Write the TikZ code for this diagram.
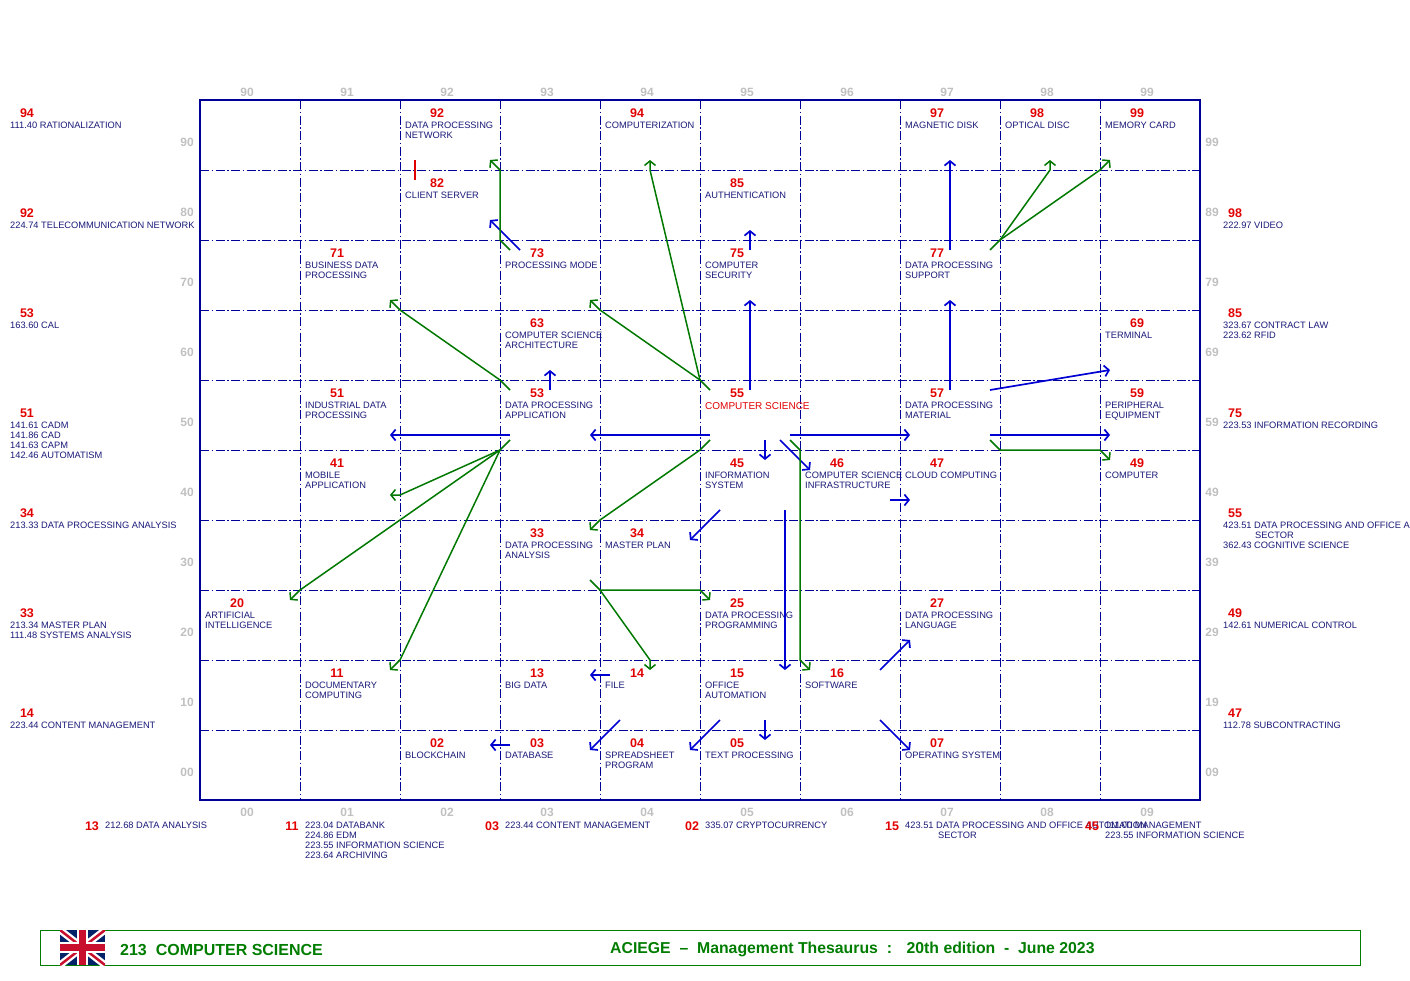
\documentclass[tikz,border=0pt]{standalone}
\usepackage{fontspec}
\setmainfont{Liberation Sans}
\usetikzlibrary{arrows.meta}
\usetikzlibrary{calc}

\definecolor{gridblue}{RGB}{0,0,150}
\definecolor{arrblue}{RGB}{0,0,210}
\definecolor{arrgreen}{RGB}{0,120,0}
\definecolor{numred}{RGB}{225,0,0}
\definecolor{termblue}{RGB}{25,25,120}
\definecolor{axgray}{RGB}{192,192,192}
\definecolor{footgreen}{RGB}{0,125,0}
\definecolor{flagblue}{RGB}{1,33,105}
\definecolor{flagred}{RGB}{200,16,46}

\newcommand{\termfont}{\fontsize{9.3}{10}\selectfont}
\newcommand{\numfont}{\fontsize{12.5}{13}\selectfont\bfseries}
\newcommand{\axfont}{\fontsize{12}{13}\selectfont\bfseries}
\newcommand{\footfont}{\fontsize{16}{18}\selectfont\bfseries}

\tikzset{
  num/.style={inner sep=0pt, text=numred, font=\numfont},
  term/.style={anchor=north west, inner sep=0pt, align=left, text=termblue, font=\termfont},
  axlabel/.style={inner sep=0pt, text=axgray, font=\axfont},
  gridline/.style={draw=gridblue, line width=0.9pt, dash pattern=on 9pt off 2.5pt on 1.5pt off 2.5pt},
  barrow/.style={draw=arrblue, line width=1.7pt, -{Straight Barb[length=4.5pt,width=11pt]}},
  garrow/.style={draw=arrgreen, line width=1.5pt, line join=round, -{Straight Barb[length=4.5pt,width=11pt]}},
}

\begin{document}
\begin{tikzpicture}[x=1pt,y=-1pt]
    \useasboundingbox (0,0) rectangle (1410,980);

    % grid corners
    \foreach \i in {0,...,10}
        \foreach \j in {0,...,10}
            \coordinate (k\i-\j) at ({200+100*\i},{100+70*\j});

    \foreach \i in {1,...,9} {
        \draw[gridline] (k\i-0) -- (k\i-10);
        \draw[gridline] (k0-\i) -- (k10-\i);
    }
    \draw[gridblue, line width=1.2pt] (k0-0) rectangle (k10-10);

    % axis numbers
    \foreach \i in {0,...,9} {
        \node[axlabel] (top\i) at ($(k\i-0)+(47,-8)$) {9\i};
        \node[axlabel] (bot\i) at ($(k\i-10)+(47,12)$) {0\i};
        \node[axlabel] (lft\i) at ($(k0-\i)+(-13,42)$) {\the\numexpr9-\i\relax0};
        \node[axlabel] (rgt\i) at ($(k10-\i)+(12,42)$) {\the\numexpr9-\i\relax9};
    }

    % cells
    \foreach \c/\r/\n/\t in {2/0/92/{DATA PROCESSING\\NETWORK}, 4/0/94/{COMPUTERIZATION},
        7/0/97/{MAGNETIC DISK}, 8/0/98/{OPTICAL DISC}, 9/0/99/{MEMORY CARD},
        2/1/82/{CLIENT SERVER}, 5/1/85/{AUTHENTICATION},
        1/2/71/{BUSINESS DATA\\PROCESSING}, 3/2/73/{PROCESSING MODE},
        5/2/75/{COMPUTER\\SECURITY}, 7/2/77/{DATA PROCESSING\\SUPPORT},
        3/3/63/{COMPUTER SCIENCE\\ARCHITECTURE}, 9/3/69/{TERMINAL},
        1/4/51/{INDUSTRIAL DATA\\PROCESSING}, 3/4/53/{DATA PROCESSING\\APPLICATION},
        7/4/57/{DATA PROCESSING\\MATERIAL}, 9/4/59/{PERIPHERAL\\EQUIPMENT},
        1/5/41/{MOBILE\\APPLICATION}, 5/5/45/{INFORMATION\\SYSTEM},
        6/5/46/{COMPUTER SCIENCE\\INFRASTRUCTURE}, 7/5/47/{CLOUD COMPUTING}, 9/5/49/{COMPUTER},
        3/6/33/{DATA PROCESSING\\ANALYSIS}, 4/6/34/{MASTER PLAN},
        0/7/20/{ARTIFICIAL\\INTELLIGENCE}, 5/7/25/{DATA PROCESSING\\PROGRAMMING},
        7/7/27/{DATA PROCESSING\\LANGUAGE},
        1/8/11/{DOCUMENTARY\\COMPUTING}, 3/8/13/{BIG DATA}, 4/8/14/{FILE},
        5/8/15/{OFFICE\\AUTOMATION}, 6/8/16/{SOFTWARE},
        2/9/02/{BLOCKCHAIN}, 3/9/03/{DATABASE}, 4/9/04/{SPREADSHEET\\PROGRAM},
        5/9/05/{TEXT PROCESSING}, 7/9/07/{OPERATING SYSTEM}} {
        \node[num] (n\n) at ($(k\c-\r)+(37,13)$) {\n};
        \node[term] (t\n) at ($(k\c-\r)+(5,22)$) {\t};
    }
    \node[num] (n55) at ($(k5-4)+(37,13)$) {55};
    \node[term, text=numred, font=\fontsize{10}{10}\selectfont] (t55) at ($(k5-4)+(5,22)$) {COMPUTER SCIENCE};
    \draw[numred, line width=1.6pt] ($(k2-1)+(15,-10)$) -- ($(k2-1)+(15,10)$);

    % outside references, left
    \foreach \y/\n/\t in {113/94/{111.40 RATIONALIZATION}, 213/92/{224.74 TELECOMMUNICATION NETWORK},
        313/53/{163.60 CAL}, 413/51/{141.61 CADM\\141.86 CAD\\141.63 CAPM\\142.46 AUTOMATISM},
        513/34/{213.33 DATA PROCESSING ANALYSIS}, 613/33/{213.34 MASTER PLAN\\111.48 SYSTEMS ANALYSIS},
        713/14/{223.44 CONTENT MANAGEMENT}} {
        \node[num] (ln\n) at (27,\y) {\n};
        \node[term] (lt\n) at (10,\y+9) {\t};
    }
    % outside references, right
    \foreach \y/\n/\t in {213/98/{222.97 VIDEO}, 313/85/{323.67 CONTRACT LAW\\223.62 RFID},
        413/75/{223.53 INFORMATION RECORDING},
        513/55/{423.51 DATA PROCESSING AND OFFICE AUTOMATION\\\hspace*{32pt}SECTOR\\362.43 COGNITIVE SCIENCE},
        613/49/{142.61 NUMERICAL CONTROL}, 713/47/{112.78 SUBCONTRACTING}} {
        \node[num] (rn\n) at (1235,\y) {\n};
        \node[term] (rt\n) at (1223,\y+9) {\t};
    }
    % outside references, bottom
    \foreach \k/\n/\t in {0/13/{212.68 DATA ANALYSIS},
        1/11/{223.04 DATABANK\\224.86 EDM\\223.55 INFORMATION SCIENCE\\223.64 ARCHIVING},
        2/03/{223.44 CONTENT MANAGEMENT}, 3/02/{335.07 CRYPTOCURRENCY},
        4/15/{423.51 DATA PROCESSING AND OFFICE AUTOMATION\\\hspace*{33pt}SECTOR},
        5/45/{111.00 MANAGEMENT\\223.55 INFORMATION SCIENCE}} {
        \node[num] (bn\n) at ({92+200*\k},826) {\n};
        \node[term] (bt\n) at ({105+200*\k},822) {\t};
    }

    % blue arrows
    \draw[barrow] ($(k3-2)+(20,10)$) -- ($(k3-2)+(-10,-20)$);
    \draw[barrow] ($(k5-2)+(50,10)$) -- ($(k5-2)+(50,-10)$);
    \draw[barrow] ($(k5-4)+(50,10)$) -- ($(k5-3)+(50,-10)$);
    \draw[barrow] ($(k3-4)+(50,10)$) -- ($(k3-4)+(50,-10)$);
    \draw[barrow] ($(k7-2)+(50,10)$) -- ($(k7-1)+(50,-10)$);
    \draw[barrow] ($(k7-4)+(50,10)$) -- ($(k7-3)+(50,-10)$);
    \draw[barrow] ($(k8-4)+(-10,10)$) -- ($(k9-4)+(10,-10)$);
    \draw[barrow] ($(k5-4)+(10,55)$) -- ($(k4-4)+(-10,55)$);
    \draw[barrow] ($(k3-4)+(10,55)$) -- ($(k2-4)+(-10,55)$);
    \draw[barrow] ($(k6-4)+(-10,55)$) -- ($(k7-4)+(10,55)$);
    \draw[barrow] ($(k8-4)+(-10,55)$) -- ($(k9-4)+(10,55)$);
    \draw[barrow] ($(k5-5)+(65,-10)$) -- ($(k5-5)+(65,10)$);
    \draw[barrow] ($(k6-5)+(-20,-10)$) -- ($(k6-5)+(10,20)$);
    \draw[barrow] ($(k5-6)+(20,-10)$) -- ($(k5-6)+(-10,20)$);
    \draw[barrow] ($(k7-6)+(-10,-20)$) -- ($(k7-6)+(10,-20)$);
    \draw[barrow] ($(k6-6)+(-15,-10)$) -- ($(k6-8)+(-15,10)$);
    \draw[barrow] ($(k7-8)+(-20,10)$) -- ($(k7-8)+(10,-20)$);
    \draw[barrow] ($(k7-9)+(-20,-10)$) -- ($(k7-9)+(10,20)$);
    \draw[barrow] ($(k4-8)+(10,15)$) -- ($(k4-8)+(-10,15)$);
    \draw[barrow] ($(k4-9)+(20,-10)$) -- ($(k4-9)+(-10,20)$);
    \draw[barrow] ($(k5-9)+(20,-10)$) -- ($(k5-9)+(-10,20)$);
    \draw[barrow] ($(k5-9)+(65,-10)$) -- ($(k5-9)+(65,10)$);
    \draw[barrow] ($(k3-9)+(10,15)$) -- ($(k3-9)+(-10,15)$);

    % green arrows
    \draw[garrow] ($(k3-2)+(10,10)$) -- (k3-2) -- (k3-1) -- ($(k3-1)+(-10,-10)$);
    \draw[garrow] ($(k5-4)+(10,10)$) -- (k5-4) -- ($(k4-1)+(50,0)$) -- ($(k4-1)+(50,-10)$);
    \draw[garrow] (k5-4) -- (k4-3) -- ($(k4-3)+(-10,-10)$);
    \draw[garrow] ($(k3-4)+(10,10)$) -- (k3-4) -- (k2-3) -- ($(k2-3)+(-10,-10)$);
    \draw[garrow] ($(k8-2)+(-10,10)$) -- (k8-2) -- ($(k8-1)+(50,0)$) -- ($(k8-1)+(50,-10)$);
    \draw[garrow] (k8-2) -- (k9-1) -- ($(k9-1)+(10,-10)$);
    \draw[garrow] ($(k3-5)+(10,-10)$) -- (k3-5) -- ($(k2-5)+(0,45)$) -- ($(k2-5)+(-10,45)$);
    \draw[garrow] (k3-5) -- (k1-7) -- ($(k1-7)+(-10,10)$);
    \draw[garrow] (k3-5) -- (k2-8) -- ($(k2-8)+(-10,10)$);
    \draw[garrow] ($(k5-5)+(10,-10)$) -- (k5-5) -- (k4-6) -- ($(k4-6)+(-10,10)$);
    \draw[garrow] ($(k4-7)+(-10,-10)$) -- (k4-7) -- (k5-7) -- ($(k5-7)+(10,10)$);
    \draw[garrow] (k4-7) -- ($(k4-8)+(50,0)$) -- ($(k4-8)+(50,10)$);
    \draw[garrow] ($(k6-5)+(-10,-10)$) -- (k6-5) -- (k6-8) -- ($(k6-8)+(10,10)$);
    \draw[garrow] ($(k8-5)+(-10,-10)$) -- (k8-5) -- (k9-5) -- ($(k9-5)+(10,10)$);

    % footer
    \draw[footgreen, line width=1pt] (40,930) rectangle (1360,965);
    \begin{scope}
        \clip (60,930) rectangle (105,965);
        \fill[flagblue] (60,930) rectangle (105,965);
        \draw[white, line width=7pt] (60,930) -- (105,965) (60,965) -- (105,930);
        \draw[flagred, line width=2.5pt] (60,930) -- (105,965) (60,965) -- (105,930);
        \draw[white, line width=11pt] (82.5,930) -- (82.5,965) (60,947.5) -- (105,947.5);
        \draw[flagred, line width=6.5pt] (82.5,930) -- (82.5,965) (60,947.5) -- (105,947.5);
    \end{scope}
    \node[anchor=west, inner sep=0pt, text=footgreen, font=\footfont] (ftitle) at (120,949.5) {213\ \ COMPUTER SCIENCE};
    \node[anchor=west, inner sep=0pt, text=footgreen, font=\fontsize{15.8}{18}\selectfont\bfseries] (fedition) at (610,949.5)
        {ACIEGE \ -- \ Management Thesaurus \ : \ \ 20th edition \ - \ June 2023};
\end{tikzpicture}
\end{document}
